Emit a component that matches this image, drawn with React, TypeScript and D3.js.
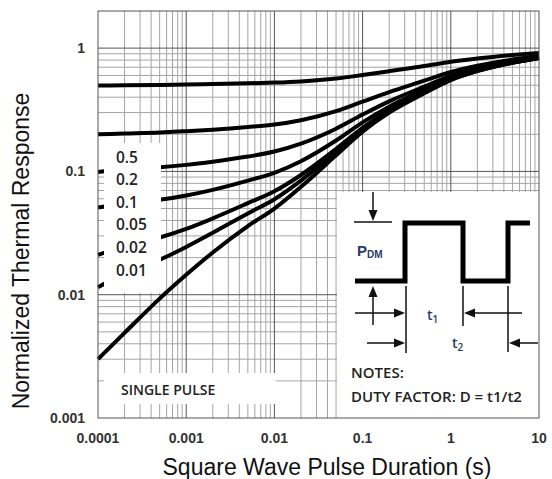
import * as d3 from "d3";

// pulse durations (s) at which the curves were read
const durations = [1e-4, 2e-4, 5e-4, 1e-3, 2e-3, 5e-3, 1e-2, 2e-2, 5e-2, 0.1, 0.2, 0.5, 1, 2, 5, 10];

// normalized thermal response
const d050 = [0.497, 0.5, 0.503, 0.507, 0.511, 0.518, 0.525, 0.537, 0.567, 0.605, 0.65, 0.715, 0.775, 0.825, 0.88, 0.915];
const d020 = [0.2, 0.203, 0.207, 0.212, 0.218, 0.229, 0.24, 0.26, 0.308, 0.368, 0.44, 0.544, 0.64, 0.72, 0.808, 0.864];
const d010 = [0.099, 0.104, 0.108, 0.113, 0.12, 0.132, 0.145, 0.168, 0.222, 0.289, 0.37, 0.487, 0.595, 0.685, 0.784, 0.847];
const d005 = [0.051, 0.0547, 0.0588, 0.0638, 0.0709, 0.0842, 0.0975, 0.121, 0.178, 0.25, 0.335, 0.459, 0.573, 0.668, 0.772, 0.839];
const d002 = [0.021, 0.0248, 0.0291, 0.0342, 0.0416, 0.0553, 0.069, 0.0935, 0.152, 0.226, 0.314, 0.441, 0.559, 0.657, 0.765, 0.833];
const d001 = [0.0115, 0.0149, 0.0192, 0.0244, 0.0318, 0.0456, 0.0595, 0.0843, 0.144, 0.218, 0.307, 0.436, 0.555, 0.654, 0.762, 0.832];
const single = [0.003, 0.0049, 0.0093, 0.0145, 0.022, 0.036, 0.05, 0.075, 0.135, 0.21, 0.3, 0.43, 0.55, 0.65, 0.76, 0.83];

const seriesList = [d050, d020, d010, d005, d002, d001, single];
const dutyLabels = ["0.5", "0.2", "0.1", "0.05", "0.02", "0.01"];

const xTicks = [0.0001, 0.001, 0.01, 0.1, 1, 10];
const xTickLabels = ["0.0001", "0.001", "0.01", "0.1", "1", "10"];
const yTicks = [0.001, 0.01, 0.1, 1];
const yTickLabels = ["0.001", "0.01", "0.1", "1"];

const W = 552;
const H = 479;
const L = 98, R = 539, T = 11, B = 418;

const x = d3.scaleLog().domain([1e-4, 10]).range([L, R]);
const y = d3.scaleLog().domain([0.001, 2]).range([B, T]);

const line = d3
  .line<[number, number]>()
  .x((d) => x(d[0]))
  .y((d) => y(d[1]))
  .curve(d3.curveMonotoneX);

// minor grid positions
const minorX: number[] = [];
for (let k = -4; k <= 0; k++) for (let m = 2; m <= 9; m++) minorX.push(m * Math.pow(10, k));
const minorY: number[] = [];
for (let k = -3; k <= -1; k++) for (let m = 2; m <= 9; m++) minorY.push(m * Math.pow(10, k));

const navy = "#2b3a66";
const tickFont = { fontFamily: "'Liberation Sans', Arial, sans-serif", fontWeight: 700, fontSize: 14, fill: "#333" };
const noteFont = { fontFamily: "'Open Sans', sans-serif", fontWeight: 600, fill: "#222" };
const titleFont = { fontFamily: "'Liberation Sans', Arial, sans-serif", fontSize: 23, fill: "#111" };

function Arrow({ x1, x2, yy }: { x1: number; x2: number; yy: number }) {
  // horizontal arrow from x1 to tip at x2
  const dir = x2 > x1 ? 1 : -1;
  const base = x2 - dir * 11;
  return (
    <g>
      <line x1={x1} x2={base} y1={yy} y2={yy} stroke="#111" strokeWidth={1.5} />
      <path d={`M${x2},${yy} L${base},${yy - 4.5} L${base},${yy + 4.5} Z`} fill="#111" />
    </g>
  );
}

function VArrow({ xx, y1, y2 }: { xx: number; y1: number; y2: number }) {
  const dir = y2 > y1 ? 1 : -1;
  const base = y2 - dir * 11;
  return (
    <g>
      <line x1={xx} x2={xx} y1={y1} y2={base} stroke="#111" strokeWidth={1.5} />
      <path d={`M${xx},${y2} L${xx - 4.5},${base} L${xx + 4.5},${base} Z`} fill="#111" />
    </g>
  );
}

export default function App() {
  return (
    <svg width={W} height={H} style={{ position: "absolute", left: 0, top: 0, background: "#fff" }}>
      <rect x={0} y={0} width={W} height={H} fill="#fff" />

      {/* grid */}
      <g stroke="#a5a5a5" strokeWidth={1}>
        {minorX.map((v) => (
          <line key={"mx" + v} x1={x(v)} x2={x(v)} y1={T} y2={B} />
        ))}
        {minorY.map((v) => (
          <line key={"my" + v} x1={L} x2={R} y1={y(v)} y2={y(v)} />
        ))}
      </g>
      <g stroke="#555" strokeWidth={1}>
        {xTicks.slice(1, -1).map((v) => (
          <line key={"Mx" + v} x1={x(v)} x2={x(v)} y1={T} y2={B} />
        ))}
        {yTicks.slice(1).map((v) => (
          <line key={"My" + v} x1={L} x2={R} y1={y(v)} y2={y(v)} />
        ))}
      </g>

      {/* curves */}
      <g fill="none" stroke="#000" strokeWidth={4} strokeLinecap="butt">
        {seriesList.map((s, i) => (
          <path key={i} d={line(durations.map((t, j) => [t, s[j]] as [number, number])) || ""} />
        ))}
      </g>

      {/* white label areas */}
      <rect x={104} y={143} width={57} height={150} fill="#fff" />
      <rect x={104} y={373} width={172} height={31} fill="#fff" />
      <rect x={337} y={192} width={R - 337} height={B - 192} fill="#fff" />

      {/* frame */}
      <rect x={L} y={T} width={R - L} height={B - T} fill="none" stroke="#555" strokeWidth={1} />

      {/* duty factor labels */}
      <g style={{ ...noteFont, fontSize: 15.5 }}>
        {dutyLabels.map((d, i) => (
          <text key={d} x={116} y={157 + i * 22.6} dy="0.36em">
            {d}
          </text>
        ))}
      </g>
      <text x={121} y={390} dy="0.36em" style={{ ...noteFont, fontSize: 14 }}>
        SINGLE PULSE
      </text>

      {/* inset: pulse train */}
      <VArrow xx={373} y1={192} y2={221} />
      <line x1={354} x2={392} y1={222} y2={222} stroke="#111" strokeWidth={1.5} />
      <text x={357} y={256} fill={navy} style={{ fontFamily: "'Liberation Sans', Arial, sans-serif", fontWeight: 700, fontSize: 15 }}>
        P
        <tspan dy={2} fontSize={10}>
          DM
        </tspan>
      </text>
      <path d="M355,281 H405 V223 H463 V281 H508 V223 H530" fill="none" stroke="#000" strokeWidth={5} />
      <VArrow xx={373} y1={325} y2={286} />
      <g stroke="#111" strokeWidth={1.5}>
        <line x1={406} x2={406} y1={286} y2={353} />
        <line x1={463} x2={463} y1={286} y2={326} />
        <line x1={508} x2={508} y1={286} y2={352} />
      </g>
      <Arrow x1={355} x2={405} yy={313} />
      <Arrow x1={522} x2={464} yy={313} />
      <Arrow x1={367} x2={405} yy={343} />
      <Arrow x1={538} x2={509} yy={343} />
      <g fill={navy} style={{ fontFamily: "'Open Sans', sans-serif", fontWeight: 600, fontSize: 14 }}>
        <text x={427} y={320}>
          t<tspan dy={3} fontSize={10}>1</tspan>
        </text>
        <text x={452} y={348}>
          t<tspan dy={3} fontSize={10}>2</tspan>
        </text>
      </g>
      <g style={{ ...noteFont, fontSize: 15 }}>
        <text x={351} y={373} dy="0.36em">NOTES:</text>
        <text x={351} y={397} dy="0.36em">DUTY FACTOR: D = t1/t2</text>
      </g>

      {/* tick labels */}
      <g style={tickFont}>
        {yTicks.map((v, i) => (
          <text key={v} x={85} y={y(v)} dy="0.36em" textAnchor="end">
            {yTickLabels[i]}
          </text>
        ))}
        {xTicks.map((v, i) => (
          <text key={v} x={x(v)} y={438} dy="0.36em" textAnchor="middle">
            {xTickLabels[i]}
          </text>
        ))}
      </g>

      {/* axis titles */}
      <text x={327} y={467} dy="0.36em" textAnchor="middle" style={titleFont}>
        Square Wave Pulse Duration (s)
      </text>
      <text transform="translate(21,251) rotate(-90)" dy="0.36em" textAnchor="middle" style={titleFont}>
        Normalized Thermal Response
      </text>
    </svg>
  );
}
